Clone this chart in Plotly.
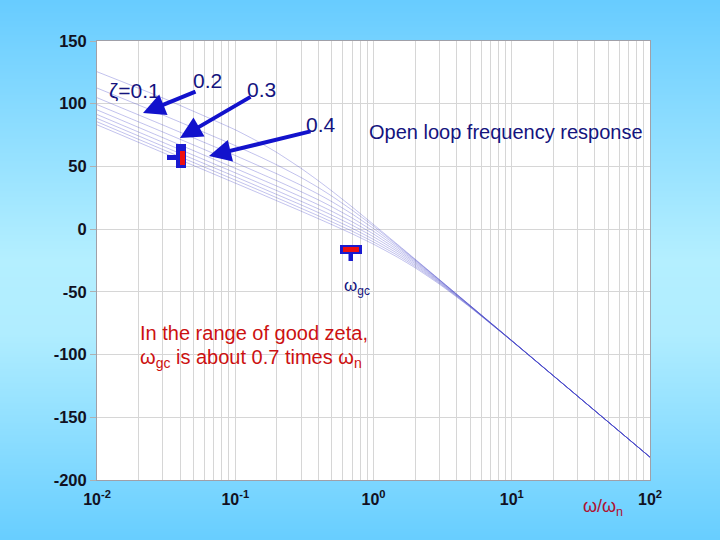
import base64, struct, zlib
import plotly.graph_objects as go

# ---------------- data ----------------
freq = [0.01, 0.03, 0.1, 0.15, 0.2, 0.3, 0.4, 0.5, 0.7, 1, 1.5, 2, 3, 5, 10, 100]
zetas = [0.1, 0.2, 0.3, 0.4, 0.5, 0.6, 0.7, 0.8, 0.9]
mag_z01 = [125.5, 104.5, 79.2, 69.1, 61.1, 48.4, 38.5, 30.4, 17.7, 3.7, -12.4, -23.9, -40.2, -60.8, -88.8, -181.8]
mag_z02 = [112.5, 91.0, 66.6, 57.8, 51.2, 41.1, 33.1, 26.3, 15.2, 2.4, -13.0, -24.3, -40.4, -60.9, -88.8, -181.8]
mag_z03 = [104.8, 83.0, 58.7, 50.2, 44.1, 34.9, 27.8, 21.9, 12.1, 0.5, -14.0, -24.8, -40.6, -61.0, -88.9, -181.8]
mag_z04 = [99.3, 77.4, 53.0, 44.6, 38.6, 29.8, 23.3, 17.8, 8.9, -1.7, -15.2, -25.6, -41.0, -61.1, -88.9, -181.8]
mag_z05 = [95.1, 72.9, 48.5, 40.2, 34.3, 25.7, 19.4, 14.2, 5.9, -3.9, -16.6, -26.5, -41.5, -61.3, -89.0, -181.8]
mag_z06 = [91.4, 69.2, 44.9, 36.6, 30.7, 22.2, 16.1, 11.1, 3.2, -6.1, -18.0, -27.5, -42.0, -61.5, -89.0, -181.8]
mag_z07 = [88.3, 66.1, 41.8, 33.5, 27.6, 19.3, 13.2, 8.3, 0.7, -8.2, -19.5, -28.6, -42.6, -61.7, -89.1, -181.8]
mag_z08 = [85.6, 63.4, 39.1, 30.9, 25.0, 16.6, 10.6, 5.8, -1.6, -10.2, -21.0, -29.7, -43.2, -62.0, -89.1, -181.8]
mag_z09 = [83.2, 61.0, 36.7, 28.5, 22.6, 14.3, 8.3, 3.6, -3.7, -12.0, -22.5, -30.8, -43.9, -62.3, -89.2, -181.8]
series = [mag_z01, mag_z02, mag_z03, mag_z04, mag_z05, mag_z06, mag_z07, mag_z08, mag_z09]

y_ticks = [150, 100, 50, 0, -50, -100, -150, -200]
y_tick_text = ["150", "100", "50", "0", "-50", "-100", "-150", "-200"]
x_decades = [0.01, 0.1, 1, 10, 100]
x_decade_text = ["10<sup>-2</sup>", "10<sup>-1</sup>", "10<sup>0</sup>", "10<sup>1</sup>", "10<sup>2</sup>"]

# ---------------- layout geometry ----------------
W, H = 720, 540
L, R, T, B = 97, 650, 41, 480   # plot area in pixels


def dom(px, py):
    return (px - L) / (R - L), (B - py) / (B - T)


# background gradient as an inline PNG
def gradient_png(h, stops):
    rows = []
    for i in range(h):
        f = i / (h - 1)
        for j in range(len(stops) - 1):
            f0, c0 = stops[j]
            f1, c1 = stops[j + 1]
            if f0 <= f <= f1:
                t = (f - f0) / (f1 - f0) if f1 > f0 else 0
                c = tuple(int(round(c0[k] + (c1[k] - c0[k]) * t)) for k in range(3))
                break
        rows.append(b"\x00" + bytes(c) * 2)
    raw = b"".join(rows)

    def chunk(tag, data):
        return (struct.pack(">I", len(data)) + tag + data +
                struct.pack(">I", zlib.crc32(tag + data) & 0xFFFFFFFF))

    png = (b"\x89PNG\r\n\x1a\n" +
           chunk(b"IHDR", struct.pack(">IIBBBBB", 2, h, 8, 2, 0, 0, 0)) +
           chunk(b"IDAT", zlib.compress(raw)) + chunk(b"IEND", b""))
    return "data:image/png;base64," + base64.b64encode(png).decode()


bg = gradient_png(270, [(0.0, (104, 204, 255)), (0.48, (180, 239, 255)),
                        (0.62, (176, 237, 255)), (1.0, (104, 206, 255))])

fig = go.Figure()
for z, mag in zip(zetas, series):
    fig.add_trace(go.Scatter(
        x=freq, y=mag, mode="lines", name=f"zeta={z}",
        line=dict(color="rgba(70,70,200,0.33)", width=1, shape="spline", smoothing=0.5),
        showlegend=False, hoverinfo="skip"))

# minor log grid ticks
grid_vals = []
for d in [0.01, 0.1, 1, 10]:
    for m in range(1, 10):
        grid_vals.append(d * m)
grid_vals.append(100)
grid_text = []
for v in grid_vals:
    grid_text.append(x_decade_text[x_decades.index(v)] if v in x_decades else "")

navy = "#14147e"
red = "#cc1111"
font_main = "Liberation Sans, Arial, sans-serif"

shapes = []
# white plot area (over the gradient image)
shapes.append(dict(type="rect", xref="x domain", yref="y domain", x0=0, x1=1, y0=0, y1=1,
                   fillcolor="white", line=dict(width=0), layer="below"))


def rect(px0, py0, px1, py1, color):
    x0, y0 = dom(px0, py1)
    x1, y1 = dom(px1, py0)
    shapes.append(dict(type="rect", xref="x domain", yref="y domain",
                       x0=x0, x1=x1, y0=y0, y1=y1, fillcolor=color,
                       line=dict(width=0), layer="above"))


blue_m = "#1a1ad0"
# left marker
rect(167, 155, 177, 160, blue_m)
rect(176, 144, 186, 168, blue_m)
rect(180, 151, 185, 165, "#ee1111")
# right marker (omega_gc)
rect(340, 245, 362, 254, blue_m)
rect(343, 247, 359, 252, "#ee1111")
rect(348.5, 253, 353, 261, blue_m)

annotations = []


def text(px, py, s, color, size, xanchor="center"):
    x, y = dom(px, py)
    annotations.append(dict(xref="x domain", yref="y domain", x=x, y=y, text=s,
                            showarrow=False, xanchor=xanchor, yanchor="middle",
                            font=dict(family=font_main, size=size, color=color)))


text(134, 90, "ζ=0.1", navy, 21)
text(207, 80, "0.2", navy, 21)
text(261, 89, "0.3", navy, 21)
text(321, 124, "0.4", navy, 21)
text(506, 132, "Open loop frequency response", navy, 20)
text(357, 287, "ω<sub>gc</sub>", navy, 17)
text(138, 333, "In the range of good zeta,", red, 20, "left")
text(138, 358, "ω<sub>gc</sub> is about 0.7 times ω<sub>n</sub>", red, 20, "left")
text(603, 507, "ω/ω<sub>n</sub>", "#b01030", 18)


def arrow(hx, hy, tx, ty):
    x, y = dom(hx, hy)
    annotations.append(dict(xref="x domain", yref="y domain", x=x, y=y, text="",
                            showarrow=True, ax=tx - hx, ay=ty - hy, axref="pixel", ayref="pixel",
                            arrowhead=2, arrowsize=1.1, arrowwidth=4, arrowcolor="#1212cc",
                            standoff=0, startstandoff=0))


arrow(143, 113, 197, 91)
arrow(180, 138, 252, 96)
arrow(209, 156, 312, 131)

fig.update_layout(
    width=W, height=H, autosize=False,
    margin=dict(l=L, r=W - R, t=T, b=H - B, pad=0),
    paper_bgcolor="#8ad8ff", plot_bgcolor="white",
    font=dict(family=font_main),
    shapes=shapes, annotations=annotations,
    images=[dict(source=bg, xref="paper", yref="paper",
                 x=-L / (R - L), y=1 + T / (B - T),
                 sizex=W / (R - L), sizey=H / (B - T),
                 xanchor="left", yanchor="top", sizing="stretch", layer="below")],
    xaxis=dict(type="log", range=[-2, 2], tickvals=grid_vals, ticktext=grid_text,
               showgrid=True, gridcolor="#d6d6d6", gridwidth=1, ticks="",
               showline=True, mirror=True, linecolor="#a0a0a8", linewidth=1,
               zeroline=False, tickangle=0, ticklabelstandoff=5,
               tickfont=dict(family=font_main, size=16, color="#111122", weight="bold")),
    yaxis=dict(range=[-200, 150], tickvals=y_ticks, ticktext=y_tick_text,
               showgrid=True, gridcolor="#d6d6d6",
               gridwidth=1, ticks="outside", ticklen=6, tickcolor="#b0b0b0",
               showline=True, mirror=True, linecolor="#a0a0a8", linewidth=1,
               zeroline=False,
               tickfont=dict(family=font_main, size=16.5, color="#111122", weight="bold")),
)

fig.write_html("out.html", config={"displayModeBar": False},
               post_script="document.body.style.margin='0';document.body.style.background='#68ccff';")
